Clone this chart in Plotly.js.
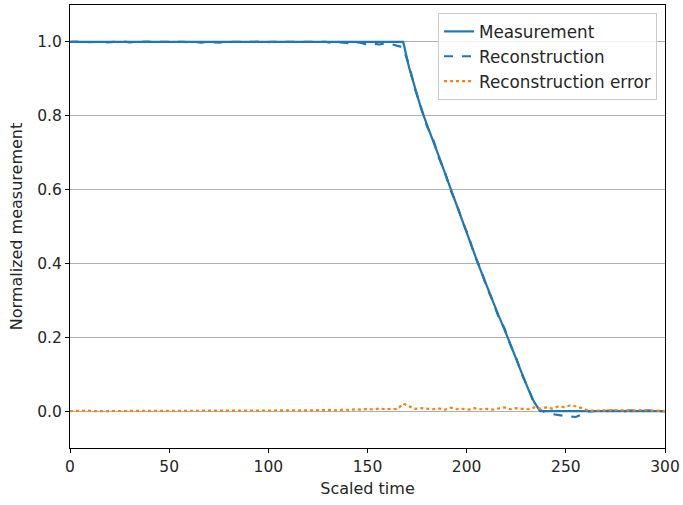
<!DOCTYPE html>
<html><head><meta charset="utf-8">
<script src="https://cdn.plot.ly/plotly-3.0.1.min.js"></script>
<style>html,body{margin:0;padding:0;background:#fff}#chart{width:683px;height:505px}</style>
</head><body><div id="chart"></div>
<script>
const time = [0,3,6,9,12,15,18,21,24,27,30,33,36,39,42,45,48,51,54,57,
60,63,66,69,72,75,78,81,84,87,90,93,96,99,102,105,108,111,114,117,
120,123,126,129,132,135,138,141,144,147,150,153,156,159,162,165,168,
171,174,177,180,183,186,189,192,195,198,201,204,207,210,213,216,219,222,225,228,231,234,237,
240,243,246,249,252,255,258,261,264,267,270,273,276,279,282,285,288,291,294,297,300];

const measurement = [1,1,1,1,1,1,1,1,1,1,1,1,1,1,1,1,1,1,1,1,
1,1,1,1,1,1,1,1,1,1,1,1,1,1,1,1,1,1,1,1,
1,1,1,1,1,1,1,1,1,1,1,1,1,1,1,1,1,
0.93,0.875,0.82,0.775,0.735,0.69,0.645,0.6,0.557,0.515,0.47,0.425,0.382,0.34,0.297,0.26,0.222,0.183,0.14,0.1,0.06,0.025,0.0,
0,0,0,0,0,0,0,0,0,0,0,0,0,0,0,0,0,0,0,0,0];

const reconstruction = [1.0,1.001,0.999,1.0,1.001,1.0,0.999,1.0,1.0,1.001,0.999,1.0,1.0,1.001,1.0,0.999,1.0,1.0,1.001,1.0,
0.999,1.0,0.998,1.0,0.999,0.998,1.0,0.999,1.0,1.0,0.999,1.0,1.001,0.999,1.0,1.0,0.998,1.0,1.0,0.999,
1.0,0.999,0.998,1.0,0.997,0.999,0.998,0.996,0.999,0.997,0.992,0.995,0.993,0.996,0.994,0.99,0.985,
0.935,0.872,0.823,0.771,0.738,0.686,0.648,0.597,0.56,0.512,0.473,0.421,0.385,0.337,0.3,0.256,0.225,0.18,0.143,0.097,0.063,0.02,0.003,
-0.004,-0.008,-0.011,-0.013,-0.015,-0.016,-0.01,-0.002,0.0,0.001,0.0,0.001,0.0,-0.001,0.002,0.001,0.0,0.002,0.0,0.0,0.0];

const reconError = [0.0,0.001,0.0,0.001,0.0,0.0,0.001,0.0,0.001,0.0,0.0,0.001,0.0,0.001,0.0,0.0,0.001,0.0,0.001,0.0,
0.001,0.0,0.002,0.001,0.001,0.002,0.001,0.002,0.001,0.002,0.002,0.001,0.002,0.001,0.002,0.002,0.001,0.002,0.002,0.001,
0.002,0.002,0.003,0.002,0.003,0.002,0.004,0.003,0.005,0.004,0.006,0.004,0.007,0.005,0.006,0.005,0.02,
0.012,0.006,0.008,0.006,0.005,0.007,0.004,0.009,0.005,0.006,0.004,0.008,0.005,0.006,0.004,0.007,0.01,0.005,0.008,0.006,0.005,0.01,0.006,
0.01,0.007,0.012,0.011,0.015,0.013,0.008,0.002,0.001,0.002,0.001,0.002,0.003,0.002,0.001,0.002,0.003,0.002,0.001,0.001,0.0];

const yTicks = [0,0.2,0.4,0.6,0.8,1.0];
const yTickText = ['0.0','0.2','0.4','0.6','0.8','1.0'];
const xTicks = [0,50,100,150,200,250,300];

const font = {family:'DejaVu Sans, sans-serif', size:16, color:'#262626'};
const traces = [
 {x:time, y:measurement, name:'Measurement', mode:'lines', line:{color:'#1f77b4', width:2.2}},
 {x:time, y:reconstruction, name:'Reconstruction', mode:'lines', line:{color:'#1f77b4', width:2.2, dash:'dash'}},
 {x:time, y:reconError, name:'Reconstruction error', mode:'lines', line:{color:'#ff7f0e', width:2.2, dash:'dot'}}
];
const layout = {
 width:683, height:505, paper_bgcolor:'#fff', plot_bgcolor:'#fff',
 margin:{l:70, r:18, t:5, b:57},
 font:font, showlegend:true,
 xaxis:{range:[0,300], tickvals:xTicks, showgrid:false, zeroline:false,
   showline:true, mirror:true, linecolor:'#000', linewidth:1,
   ticks:'outside', ticklen:4, tickcolor:'#000', tickfont:{family:font.family,size:15.5,color:'#262626'},
   title:{text:'Scaled time', font:font, standoff:8}},
 yaxis:{range:[-0.1,1.1], tickvals:yTicks, ticktext:yTickText, showgrid:true, gridcolor:'#b0b0b0', gridwidth:1,
   zeroline:false, showline:true, mirror:true, linecolor:'#000', linewidth:1,
   ticks:'outside', ticklen:4, tickcolor:'#000', tickfont:{family:font.family,size:15.5,color:'#262626'},
   title:{text:'Normalized measurement', font:font, standoff:10}},
 legend:{x:0.9866, xanchor:'right', y:0.982, yanchor:'top', bgcolor:'rgba(255,255,255,0.8)',
   bordercolor:'#cccccc', borderwidth:1, font:{family:font.family,size:16.8,color:'#262626'}, tracegroupgap:0}
};
Plotly.newPlot('chart', traces, layout, {displayModeBar:false, staticPlot:true});
</script></body></html>
